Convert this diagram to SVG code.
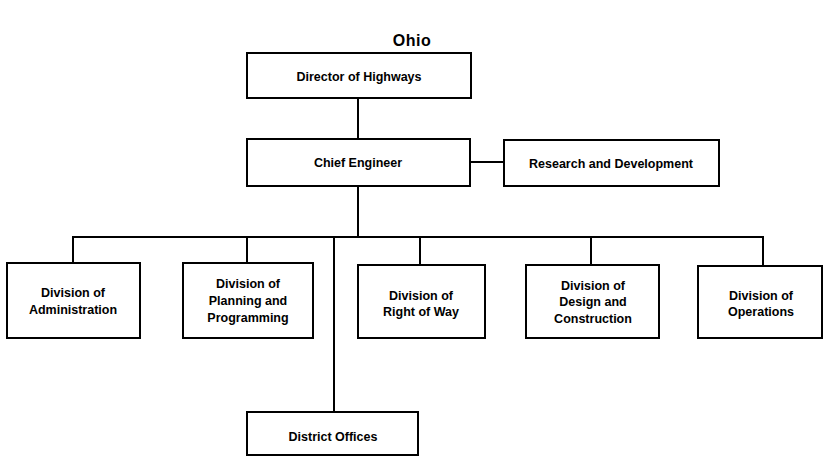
<svg xmlns="http://www.w3.org/2000/svg" width="823" height="457" viewBox="0 0 823 457">
  <style>
    .box { fill: #fff; stroke: #000; stroke-width: 2; }
    .wire { fill: none; stroke: #000; stroke-width: 2; }
    .lbl { font-family: "Liberation Sans", Arial, sans-serif; font-weight: bold; font-size: 12.5px; fill: #000; text-anchor: middle; }
    .title { font-family: "Liberation Sans", Arial, sans-serif; font-weight: bold; font-size: 16px; fill: #000; text-anchor: middle; letter-spacing: 0.5px; }
  </style>
  <rect width="823" height="457" fill="#fff"/>
  <text class="title" x="412" y="46">Ohio</text>

  <g id="connectors">
    <path class="wire" d="M358 98 V139"/>
    <path class="wire" d="M470 162 H504"/>
    <path class="wire" d="M358 186 V237"/>
    <path class="wire" d="M73 263 V237 H763 V266"/>
    <path class="wire" d="M247 237 V263"/>
    <path class="wire" d="M420 237 V265"/>
    <path class="wire" d="M591 237 V265"/>
    <path class="wire" d="M334 237 V412"/>
  </g>

  <g id="director">
    <rect class="box" x="247" y="53" width="224" height="45"/>
    <text class="lbl" x="359" y="81">Director of Highways</text>
  </g>
  <g id="chief">
    <rect class="box" x="247" y="139" width="223" height="47"/>
    <text class="lbl" x="358" y="167">Chief Engineer</text>
  </g>
  <g id="research">
    <rect class="box" x="504" y="140" width="215" height="46"/>
    <text class="lbl" x="611" y="168">Research and Development</text>
  </g>
  <g id="administration">
    <rect class="box" x="7" y="263" width="133" height="75"/>
    <text class="lbl" x="73" y="297">Division of</text>
    <text class="lbl" x="73" y="314">Administration</text>
  </g>
  <g id="planning">
    <rect class="box" x="183" y="263" width="130" height="75"/>
    <text class="lbl" x="248" y="288">Division of</text>
    <text class="lbl" x="248" y="305">Planning and</text>
    <text class="lbl" x="248" y="322">Programming</text>
  </g>
  <g id="right-of-way">
    <rect class="box" x="358" y="265" width="127" height="73"/>
    <text class="lbl" x="421" y="300">Division of</text>
    <text class="lbl" x="421" y="316">Right of Way</text>
  </g>
  <g id="design">
    <rect class="box" x="526" y="265" width="133" height="73"/>
    <text class="lbl" x="593" y="290">Division of</text>
    <text class="lbl" x="593" y="306">Design and</text>
    <text class="lbl" x="593" y="323">Construction</text>
  </g>
  <g id="operations">
    <rect class="box" x="698" y="266" width="124" height="72"/>
    <text class="lbl" x="761" y="300">Division of</text>
    <text class="lbl" x="761" y="316">Operations</text>
  </g>
  <g id="district">
    <rect class="box" x="247" y="412" width="171" height="43"/>
    <text class="lbl" x="333" y="441">District Offices</text>
  </g>
</svg>
